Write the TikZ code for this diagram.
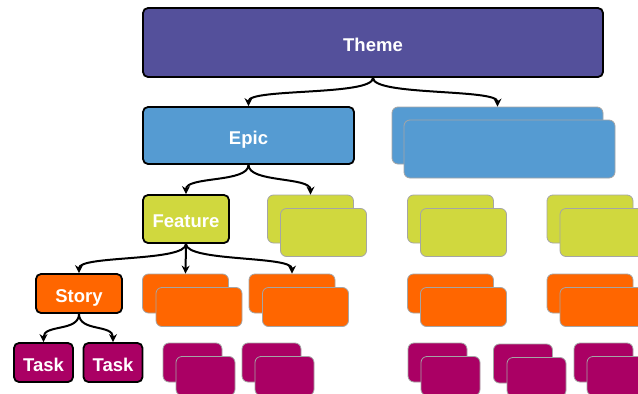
\documentclass[tikz,border=0pt]{standalone}
\usepackage{fontspec}
\setmainfont{Liberation Sans}
\usetikzlibrary{arrows.meta}
\definecolor{themecol}{RGB}{84,80,155}
\definecolor{epiccol}{RGB}{85,155,210}
\definecolor{featcol}{RGB}{208,216,62}
\definecolor{storycol}{RGB}{255,102,0}
\definecolor{taskcol}{RGB}{170,0,100}
\definecolor{ghostline}{RGB}{165,165,165}
\tikzset{
  mainbox/.style={draw=black, line width=1.8pt, rounded corners=5pt, text=white,
    font=\bfseries\fontsize{18.5}{20}\selectfont, inner sep=0pt,
    text height=17pt, text depth=0pt},
  ghost/.style={draw=ghostline, line width=0.8pt, rounded corners=6pt, inner sep=0pt},
  link/.style={line width=2pt, -{Stealth[length=8pt,width=8pt]}},
  themebox/.style={fill=themecol},
  epicbox/.style={fill=epiccol, minimum width=211pt, minimum height=57pt},
  featbox/.style={fill=featcol, minimum width=86pt, minimum height=48pt},
  storybox/.style={fill=storycol, minimum width=86pt, minimum height=39pt},
  taskbox/.style={fill=taskcol, minimum width=59pt, minimum height=39pt}
}
\begin{document}
\begin{tikzpicture}[x=1pt,y=-1pt]
\useasboundingbox (0,0) rectangle (638,394);

% top level
\node[mainbox, themebox, minimum width=460pt, minimum height=69pt] (theme) at (373,42.5) {Theme};

% epics
\node[mainbox, epicbox] (epic) at (248.5,135.5) {Epic};
\node[ghost, epicbox] (epicB) at (497.5,135.5) {};
\node[ghost, epicbox, minimum height=58pt] (epicBf) at (509.5,149) {};

% features
\node[mainbox, featbox] (feat) at (186,219) {Feature};
\node[ghost, featbox] (featA) at (310.5,219) {};
\node[ghost, featbox] (featAf) at (323.5,232.5) {};
\node[ghost, featbox] (featB) at (450.5,219) {};
\node[ghost, featbox] (featBf) at (463.5,232.5) {};
\node[ghost, featbox] (featC) at (590,219) {};
\node[ghost, featbox] (featCf) at (603,232.5) {};

% stories
\node[mainbox, storybox] (story) at (79,293.5) {Story};
\node[ghost, storybox] (storyA) at (185.5,293.5) {};
\node[ghost, storybox] (storyAf) at (199,307) {};
\node[ghost, storybox] (storyB) at (292,293.5) {};
\node[ghost, storybox] (storyBf) at (305.5,307) {};
\node[ghost, storybox] (storyC) at (450.5,293.5) {};
\node[ghost, storybox] (storyCf) at (463.5,307) {};
\node[ghost, storybox] (storyD) at (590,293.5) {};
\node[ghost, storybox] (storyDf) at (603,307) {};

% tasks
\node[mainbox, taskbox] (task1) at (43.5,362.5) {Task};
\node[mainbox, taskbox] (task2) at (113,362.5) {Task};
\node[ghost, taskbox] (taskA) at (192.5,362.5) {};
\node[ghost, taskbox] (taskAf) at (205.5,376) {};
\node[ghost, taskbox] (taskB) at (271.5,362.5) {};
\node[ghost, taskbox] (taskBf) at (284.5,376) {};
\node[ghost, taskbox] (taskC) at (437.5,362.5) {};
\node[ghost, taskbox] (taskCf) at (450.5,376) {};
\node[ghost, taskbox] (taskD) at (523,363.5) {};
\node[ghost, taskbox] (taskDf) at (536.5,377) {};
\node[ghost, taskbox] (taskE) at (603.5,362.5) {};
\node[ghost, taskbox] (taskEf) at (616.5,376) {};

% connectors
\draw[link] (theme.south) .. controls +(0,18) and +(0,-18) .. (epic.north);
\draw[link] (theme.south) .. controls +(0,18) and +(0,-18) .. (epicB.north);
\draw[link] (epic.south) .. controls +(0,18) and +(0,-18) .. (feat.north);
\draw[link] (epic.south) .. controls +(0,18) and +(0,-18) .. (featA.north);
\draw[link] (feat.south) .. controls +(0,18) and +(0,-18) .. (story.north);
\draw[link] (feat.south) -- (storyA.north);
\draw[link] (feat.south) .. controls +(0,18) and +(0,-18) .. (storyB.north);
\draw[link] (story.south) .. controls +(0,18) and +(0,-18) .. (task1.north);
\draw[link] (story.south) .. controls +(0,18) and +(0,-18) .. (task2.north);
\end{tikzpicture}
\end{document}
